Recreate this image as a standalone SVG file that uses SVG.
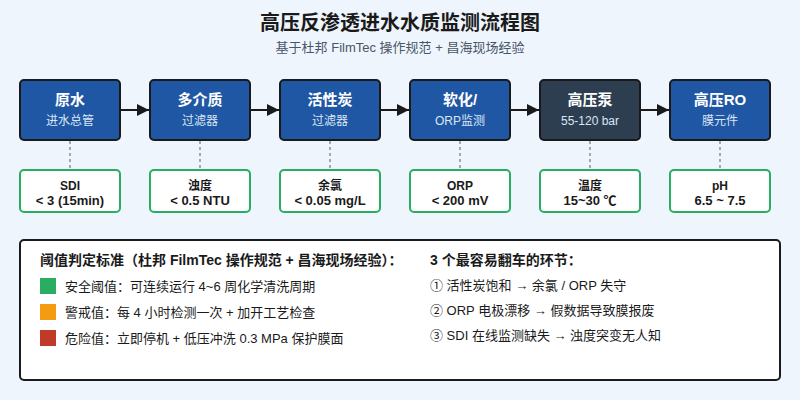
<svg xmlns="http://www.w3.org/2000/svg" width="800" height="400" viewBox="0 0 800 400">
<defs>
<marker id="ah" viewBox="0 0 10 10" refX="10" refY="5" markerWidth="18" markerHeight="12" markerUnits="userSpaceOnUse" orient="auto"><path d="M0,0 L10,5 L0,10 z" fill="#1a1a1a"/></marker>
<style>
text{font-family:"Liberation Sans","Noto Sans CJK SC",sans-serif;}
.node{fill:#1f57a4;stroke:#1a1a1a;stroke-width:2;}
.pump{fill:#2c3e50;stroke:#1a1a1a;stroke-width:2;}
.nt{fill:#fff;font-size:15px;font-weight:bold;text-anchor:middle;}
.ns{fill:#dbe6f5;font-size:12px;text-anchor:middle;}
.chk{fill:#fff;stroke:#27ae60;stroke-width:2;}
.ct{fill:#1a1a1a;font-size:12px;font-weight:bold;text-anchor:middle;}
.cv{fill:#1a1a1a;font-size:13px;font-weight:bold;text-anchor:middle;}
.flow{stroke:#1a1a1a;stroke-width:2;fill:none;marker-end:url(#ah);}
.dash{stroke:#8a9099;stroke-width:1.5;stroke-dasharray:3,3;fill:none;}
.lt{fill:#1a1a1a;font-size:13px;}
.lh{fill:#1a1a1a;font-size:14px;font-weight:bold;}
</style>
</defs>
<rect width="800" height="400" fill="#eef5fd"/>
<text x="400" y="30" text-anchor="middle" font-size="20" font-weight="bold" fill="#1a1a1a">高压反渗透进水水质监测流程图</text>
<text x="400" y="52" text-anchor="middle" font-size="13" fill="#4a5568">基于杜邦 FilmTec 操作规范 + 昌海现场经验</text>
<g id="connectors">
<path class="flow" d="M121,110 H149"/>
<path class="flow" d="M251,110 H279"/>
<path class="flow" d="M381,110 H409"/>
<path class="flow" d="M511,110 H539"/>
<path class="flow" d="M641,110 H669"/>
<path class="dash" d="M70,141 V169"/>
<path class="dash" d="M200,141 V169"/>
<path class="dash" d="M330,141 V169"/>
<path class="dash" d="M460,141 V169"/>
<path class="dash" d="M590,141 V169"/>
<path class="dash" d="M720,141 V169"/>
</g>
<g id="n1"><rect class="node" x="20" y="80" width="100" height="60" rx="4"/><text class="nt" x="70" y="105">原水</text><text class="ns" x="70" y="125">进水总管</text></g>
<g id="n2"><rect class="node" x="150" y="80" width="100" height="60" rx="4"/><text class="nt" x="200" y="105">多介质</text><text class="ns" x="200" y="125">过滤器</text></g>
<g id="n3"><rect class="node" x="280" y="80" width="100" height="60" rx="4"/><text class="nt" x="330" y="105">活性炭</text><text class="ns" x="330" y="125">过滤器</text></g>
<g id="n4"><rect class="node" x="410" y="80" width="100" height="60" rx="4"/><text class="nt" x="460" y="105">软化/</text><text class="ns" x="460" y="125">ORP监测</text></g>
<g id="n5"><rect class="pump" x="540" y="80" width="100" height="60" rx="4"/><text class="nt" x="590" y="105">高压泵</text><text class="ns" x="590" y="125">55-120 bar</text></g>
<g id="n6"><rect class="node" x="670" y="80" width="100" height="60" rx="4"/><text class="nt" x="720" y="105">高压RO</text><text class="ns" x="720" y="125">膜元件</text></g>
<g id="c1"><rect class="chk" x="20" y="170" width="100" height="42" rx="4"/><text class="ct" x="70" y="190">SDI</text><text class="cv" x="70" y="205">&lt; 3 (15min)</text></g>
<g id="c2"><rect class="chk" x="150" y="170" width="100" height="42" rx="4"/><text class="ct" x="200" y="190">浊度</text><text class="cv" x="200" y="205">&lt; 0.5 NTU</text></g>
<g id="c3"><rect class="chk" x="280" y="170" width="100" height="42" rx="4"/><text class="ct" x="330" y="190">余氯</text><text class="cv" x="330" y="205">&lt; 0.05 mg/L</text></g>
<g id="c4"><rect class="chk" x="410" y="170" width="100" height="42" rx="4"/><text class="ct" x="460" y="190">ORP</text><text class="cv" x="460" y="205">&lt; 200 mV</text></g>
<g id="c5"><rect class="chk" x="540" y="170" width="100" height="42" rx="4"/><text class="ct" x="590" y="190">温度</text><text class="cv" x="590" y="205">15~30 ℃</text></g>
<g id="c6"><rect class="chk" x="670" y="170" width="100" height="42" rx="4"/><text class="ct" x="720" y="190">pH</text><text class="cv" x="720" y="205">6.5 ~ 7.5</text></g>
<g id="legend">
<rect x="20" y="240" width="760" height="140" rx="4" fill="#fff" stroke="#1a1a1a" stroke-width="2"/>
<text class="lh" x="40" y="265">阈值判定标准（杜邦 FilmTec 操作规范 + 昌海现场经验）：</text>
<rect x="40" y="278" width="16" height="16" fill="#27ae60"/>
<text class="lt" x="65" y="291">安全阈值：可连续运行 4~6 周化学清洗周期</text>
<rect x="40" y="304" width="16" height="16" fill="#f39c12"/>
<text class="lt" x="65" y="317">警戒值：每 4 小时检测一次 + 加开工艺检查</text>
<rect x="40" y="330" width="16" height="16" fill="#c0392b"/>
<text class="lt" x="65" y="343">危险值：立即停机 + 低压冲洗 0.3 MPa 保护膜面</text>
<text class="lh" x="430" y="265">3 个最容易翻车的环节：</text>
<text class="lt" x="430" y="290">① 活性炭饱和 → 余氯 / ORP 失守</text>
<text class="lt" x="430" y="315">② ORP 电极漂移 → 假数据导致膜报废</text>
<text class="lt" x="430" y="340">③ SDI 在线监测缺失 → 浊度突变无人知</text>
</g>
</svg>
